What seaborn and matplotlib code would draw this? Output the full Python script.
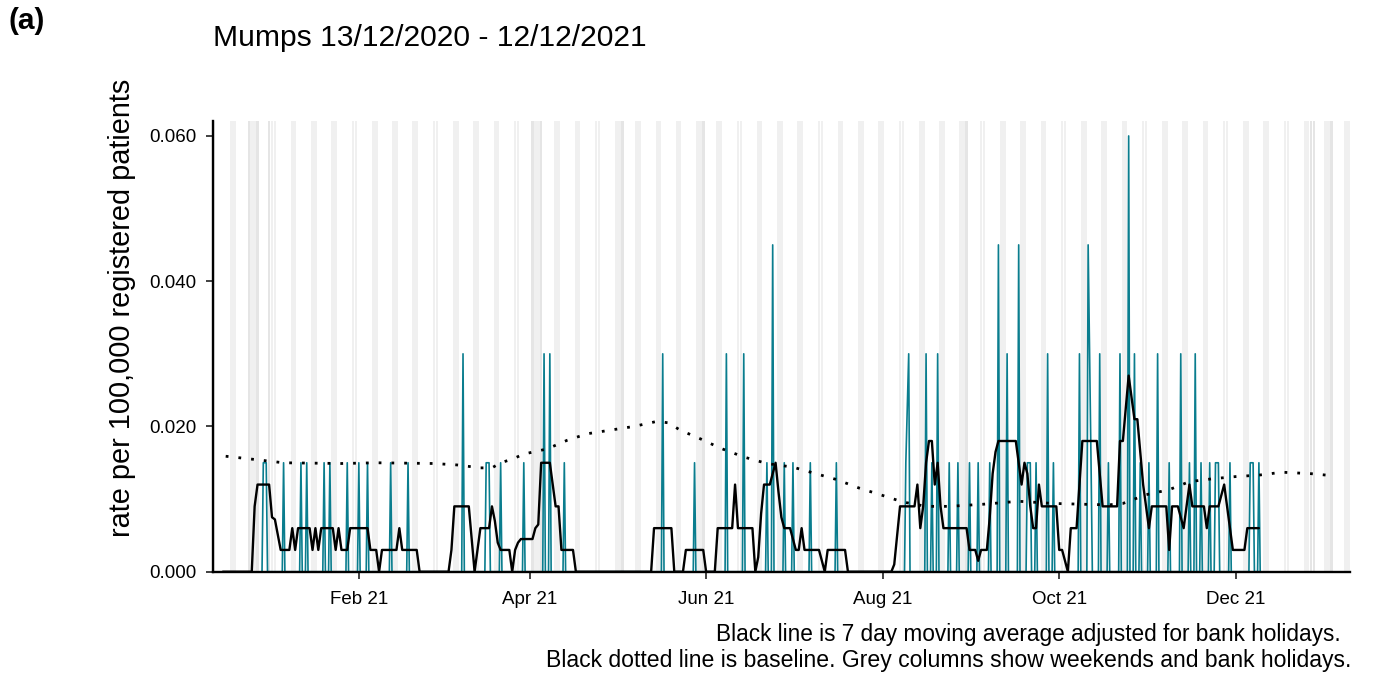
import pandas as pd
import matplotlib
matplotlib.use('Agg')
import matplotlib.pyplot as plt
import matplotlib.dates as mdates
from matplotlib.ticker import FormatStrFormatter
import seaborn as sns

# days are counted from 1 Jan 2021
day0 = pd.Timestamp('2021-01-01')

# daily rate (days not listed had no cases)
case_points = [
    (-2, 0.015), (-1, 0.015), (5, 0.015), (11, 0.015), (13, 0.015), (19, 0.015),
    (21, 0.015), (27, 0.015), (31, 0.015), (34, 0.015), (42, 0.015), (48, 0.015),
    (67, 0.030), (75, 0.015), (76, 0.015), (80, 0.015), (88, 0.015), (95, 0.030),
    (97, 0.030), (102, 0.015),
    (136, 0.030), (147, 0.015), (158, 0.030), (164, 0.030), (172, 0.015), (174, 0.045),
    (178, 0.015), (181, 0.015), (187, 0.015), (196, 0.015),
    (220, 0.015), (221, 0.030), (227, 0.030), (229, 0.015), (231, 0.030), (235, 0.015),
    (238, 0.015), (242, 0.015), (245, 0.015), (249, 0.015), (252, 0.045), (255, 0.030),
    (259, 0.045), (262, 0.015), (263, 0.015), (265, 0.015), (269, 0.030), (271, 0.015),
    (280, 0.030), (283, 0.045), (284, 0.015), (287, 0.030), (290, 0.015), (294, 0.030),
    (297, 0.060), (299, 0.030), (301, 0.015), (304, 0.015), (307, 0.030), (311, 0.015),
    (315, 0.030), (318, 0.015), (320, 0.030), (322, 0.015), (325, 0.015), (327, 0.015),
    (328, 0.015), (332, 0.015), (339, 0.015), (340, 0.015), (342, 0.015),
]

# 7 day moving average, read at its turning points
ma_points = [
    (-16, 0), (-6, 0), (-5, 0.009), (-4, 0.012), (0, 0.012), (1, 0.0075), (2, 0.0072),
    (4, 0.003), (7, 0.003), (8, 0.006), (9, 0.003), (10, 0.006), (14, 0.006), (15, 0.003),
    (16, 0.006), (17, 0.003), (18, 0.006), (22, 0.006), (23, 0.003), (24, 0.006),
    (25, 0.003), (27, 0.003), (28, 0.006), (34, 0.006), (35, 0.003), (37, 0.003), (38, 0),
    (39, 0.003), (44, 0.003), (45, 0.006), (46, 0.003), (51, 0.003), (52, 0),
    (62, 0), (63, 0.003), (64, 0.009), (69, 0.009), (70, 0.0045), (71, 0), (72, 0.003),
    (73, 0.006), (76, 0.006), (77, 0.009), (78, 0.007), (79, 0.004), (80, 0.003),
    (83, 0.003), (84, 0), (85, 0.003), (86, 0.004), (87, 0.0045), (91, 0.0045),
    (92, 0.006), (93, 0.0065), (94, 0.015), (97, 0.015), (98, 0.012), (99, 0.009),
    (100, 0.009), (101, 0.003), (105, 0.003), (106, 0),
    (132, 0), (133, 0.006), (139, 0.006), (140, 0), (143, 0), (144, 0.003), (150, 0.003),
    (151, 0), (154, 0), (155, 0.006), (160, 0.006), (161, 0.012), (162, 0.006),
    (167, 0.006), (168, 0), (169, 0.002), (170, 0.008), (171, 0.012), (173, 0.012),
    (174, 0.0135), (175, 0.015), (176, 0.011), (177, 0.0075), (178, 0.006), (180, 0.006),
    (181, 0.0045), (182, 0.003), (183, 0.003), (184, 0.006), (185, 0.003), (190, 0.003),
    (191, 0.0015), (192, 0), (193, 0.003), (199, 0.003), (200, 0),
    (215, 0), (216, 0.001), (217, 0.005), (218, 0.009), (223, 0.009), (224, 0.012),
    (225, 0.006), (226, 0.009), (227, 0.015), (228, 0.018), (229, 0.018), (230, 0.012),
    (231, 0.015), (232, 0.009), (233, 0.006), (241, 0.006), (242, 0.003), (244, 0.003),
    (245, 0.0015), (246, 0.003), (248, 0.003), (249, 0.0075), (250, 0.0135),
    (251, 0.0165), (252, 0.018), (258, 0.018), (259, 0.015), (260, 0.012), (261, 0.015),
    (262, 0.0135), (263, 0.009), (264, 0.006), (265, 0.006), (266, 0.012), (267, 0.009),
    (272, 0.009), (273, 0.003), (274, 0.003), (275, 0.0015), (276, 0), (277, 0.006),
    (279, 0.006), (280, 0.012), (281, 0.018), (286, 0.018), (287, 0.0135), (288, 0.009),
    (293, 0.009), (294, 0.018), (295, 0.018), (296, 0.0225), (297, 0.027), (298, 0.024),
    (299, 0.021), (300, 0.021), (301, 0.0165), (302, 0.012), (303, 0.009), (304, 0.006),
    (305, 0.009), (310, 0.009), (311, 0.003), (312, 0.009), (314, 0.009), (315, 0.0075),
    (316, 0.006), (317, 0.009), (318, 0.012), (319, 0.009), (323, 0.009), (324, 0.006),
    (325, 0.009), (328, 0.009), (329, 0.0105), (330, 0.012), (331, 0.009), (332, 0.006),
    (333, 0.003), (337, 0.003), (338, 0.006), (342, 0.006),
]

# baseline
base_points = [
    (-15, 0.0159), (-6, 0.0155), (5, 0.0150), (25, 0.0149), (37, 0.0150), (57, 0.0149),
    (65, 0.0147), (73, 0.0143), (77, 0.0143), (80, 0.0150), (84, 0.0155), (88, 0.0162),
    (96, 0.0169), (103, 0.0181), (110, 0.0190), (118, 0.0195), (126, 0.0200),
    (134, 0.0207), (138, 0.0205), (142, 0.0195), (149, 0.0183), (156, 0.0170),
    (164, 0.0158), (172, 0.0149), (181, 0.0144), (188, 0.0136), (196, 0.0127),
    (204, 0.0115), (212, 0.0105), (219, 0.0096), (227, 0.0090), (235, 0.0090),
    (247, 0.0093), (259, 0.0097), (271, 0.0094), (290, 0.0092), (295, 0.0094),
    (303, 0.0106), (311, 0.0113), (318, 0.0124), (326, 0.0128), (334, 0.0131),
    (342, 0.0133), (350, 0.0137), (360, 0.0135), (368, 0.0132),
]

bank_holidays = ['2020-12-25', '2020-12-28', '2021-01-01', '2021-04-02', '2021-04-05',
                 '2021-05-03', '2021-05-31', '2021-08-30', '2021-12-27', '2021-12-28',
                 '2022-01-03']
period_start, period_end = '2020-12-13', '2022-01-09'

x_ticks = ['2021-02-01', '2021-04-01', '2021-06-01', '2021-08-01', '2021-10-01', '2021-12-01']
y_ticks = [0, 0.02, 0.04, 0.06]

title = 'Mumps 13/12/2020 - 12/12/2021'
ylabel = 'rate per 100,000 registered patients'
caption1 = 'Black line is 7 day moving average adjusted for bank holidays.'
caption2 = 'Black dotted line is baseline. Grey columns show weekends and bank holidays.'


def to_frame(points):
    df = pd.DataFrame(points, columns=['day', 'rate'])
    df['date'] = day0 + pd.to_timedelta(df['day'], unit='D')
    return df


# the daily line drops back to zero just either side of a day with cases
case_days = {d for d, _ in case_points}
spike_points = []
for d, v in case_points:
    if d - 1 not in case_days:
        spike_points.append((d - 0.45, 0))
    spike_points.append((d, v))
    if d + 1 not in case_days:
        spike_points.append((d + 0.45, 0))

spikes = to_frame(spike_points)
ma = to_frame(ma_points)
base = to_frame(base_points)

sns.set_theme(style='white')
plt.rcParams['font.family'] = ['Liberation Sans', 'DejaVu Sans']
plt.rcParams['text.color'] = 'black'

fig = plt.figure(figsize=(13.81, 6.75), dpi=100)
ax = fig.add_axes([0.154, 0.153, 0.8236, 0.6682])

# grey columns for weekends and bank holidays
all_days = pd.date_range(period_start, period_end, freq='D')
weekends = all_days[all_days.dayofweek >= 5]
half = pd.Timedelta(hours=11)
for d in weekends:
    ax.axvspan(d - half, d + half, color='#f0f0f0', lw=0, zorder=0)
for d in pd.to_datetime(bank_holidays):
    ax.axvspan(d - half, d + half, color='#e5e5e5', lw=0, zorder=0)

teal = '#0a7d8e'
sns.lineplot(data=spikes, x='date', y='rate', color=teal, lw=1.2, sort=False,
             ax=ax, zorder=2)

sns.lineplot(data=ma, x='date', y='rate', color='black', lw=1.7, ax=ax, zorder=3)
sns.lineplot(data=base, x='date', y='rate', color='black', lw=2.0,
             linestyle=(0, (1, 3.6)), ax=ax, zorder=3)

ax.set_xlim(pd.Timestamp(period_start) - pd.Timedelta(hours=12),
            pd.Timestamp(period_end) + pd.Timedelta(hours=12))
ax.set_ylim(0, 0.0621)
ax.set_xticks(pd.to_datetime(x_ticks))
ax.xaxis.set_major_formatter(mdates.DateFormatter('%b %y'))
ax.set_yticks(y_ticks)
ax.yaxis.set_major_formatter(FormatStrFormatter('%.3f'))
ax.set_xlabel('')
ax.set_ylabel('')
ax.tick_params(bottom=True, left=True, length=5, width=1.3, color='#333333',
               labelsize=13.5, labelcolor='black')
ax.tick_params(axis='x', pad=9)
ax.tick_params(axis='y', pad=7)

sns.despine(ax=ax)
for side in ['left', 'bottom']:
    ax.spines[side].set_linewidth(1.7)
    ax.spines[side].set_color('black')
    ax.spines[side].set_zorder(4)

fig.text(8 / 1381, 1 - 21 / 675, '(a)', fontsize=21.5, fontweight='bold', va='center')
fig.text(213 / 1381, 1 - 38 / 675, title, fontsize=21.6, va='center')
fig.text(122 / 1381, 1 - 308 / 675, ylabel, fontsize=20.8, rotation=90,
         ha='center', va='center')
fig.text(1341 / 1381, 1 - 635 / 675, caption1, fontsize=16.3, ha='right', va='center')
fig.text(1351 / 1381, 1 - 661 / 675, caption2, fontsize=16.6, ha='right', va='center')

fig.savefig('out.png', dpi=100)
